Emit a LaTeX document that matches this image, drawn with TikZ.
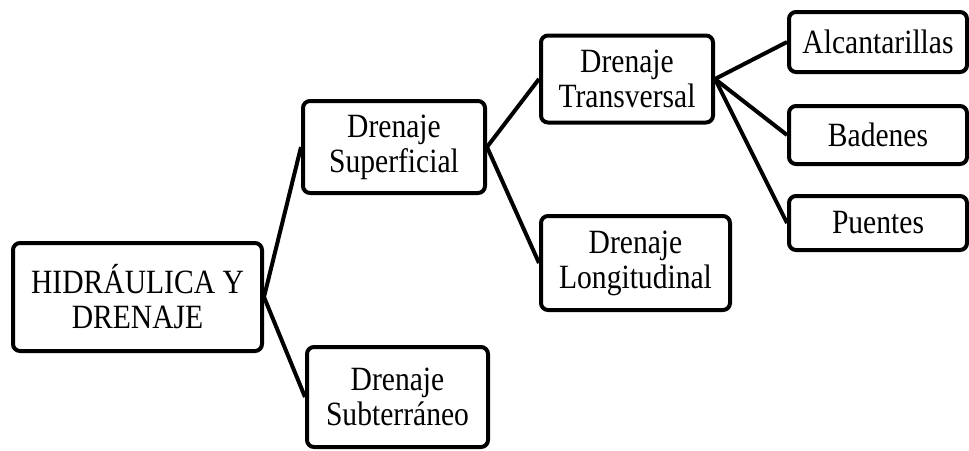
\documentclass[tikz,border=0pt]{standalone}
\usepackage{fontspec}
\setmainfont[FakeStretch=0.87]{Liberation Serif}
\usepackage{tikz}
\usetikzlibrary{arrows, calc, positioning}
\tikzstyle{box}= [draw=black, line width=4pt, rounded corners=7pt, fill=white]
\tikzstyle{Box}= [box, inner sep=0pt, align=center, font=\fontsize{34}{35}\selectfont]
\tikzstyle{link}= [line width=4pt]

\begin{document}
\begin{tikzpicture}[x=1pt,y=-1pt]
    \useasboundingbox (0,0) rectangle (969,450);

    \node [Box, minimum width=249pt, minimum height=108pt] (Hidraulica) at (137.5,297) {HIDRÁULICA Y\\DRENAJE};
    \node [Box, minimum width=182pt, minimum height=92pt] (Superficial) at (394,147) {Drenaje\\Superficial};
    \node [Box, minimum width=181pt, minimum height=100pt] (Subterraneo) at (397.5,397) {Drenaje\\Subterráneo};
    \node [Box, minimum width=172pt, minimum height=87pt] (Transversal) at (627,79) {Drenaje\\Transversal};
    \node [Box, minimum width=189pt, minimum height=94pt] (Longitudinal) at (635.5,263) {Drenaje\\Longitudinal};

    % last level
    \node [Box, minimum width=178pt, minimum height=60pt] (Alcantarillas) at (878,42) {Alcantarillas};
    \node [Box, minimum width=178pt, minimum height=58pt, below=30pt of Alcantarillas] (Badenes) {Badenes};
    \node [Box, minimum width=178pt, minimum height=54pt, below=28pt of Badenes] (Puentes) {Puentes};

    % first branch
    \draw[link] (Superficial.west) -- (Hidraulica.east) -- (Subterraneo.west);

    % second branch
    \draw[link] (Transversal.west) -- (Superficial.east) -- (Longitudinal.west);

    % third branch
    \draw[link] (Transversal.east) -- (Alcantarillas.west);
    \draw[link] (Transversal.east) -- (Badenes.west);
    \draw[link] (Transversal.east) -- (Puentes.west);

\end{tikzpicture}
\end{document}
